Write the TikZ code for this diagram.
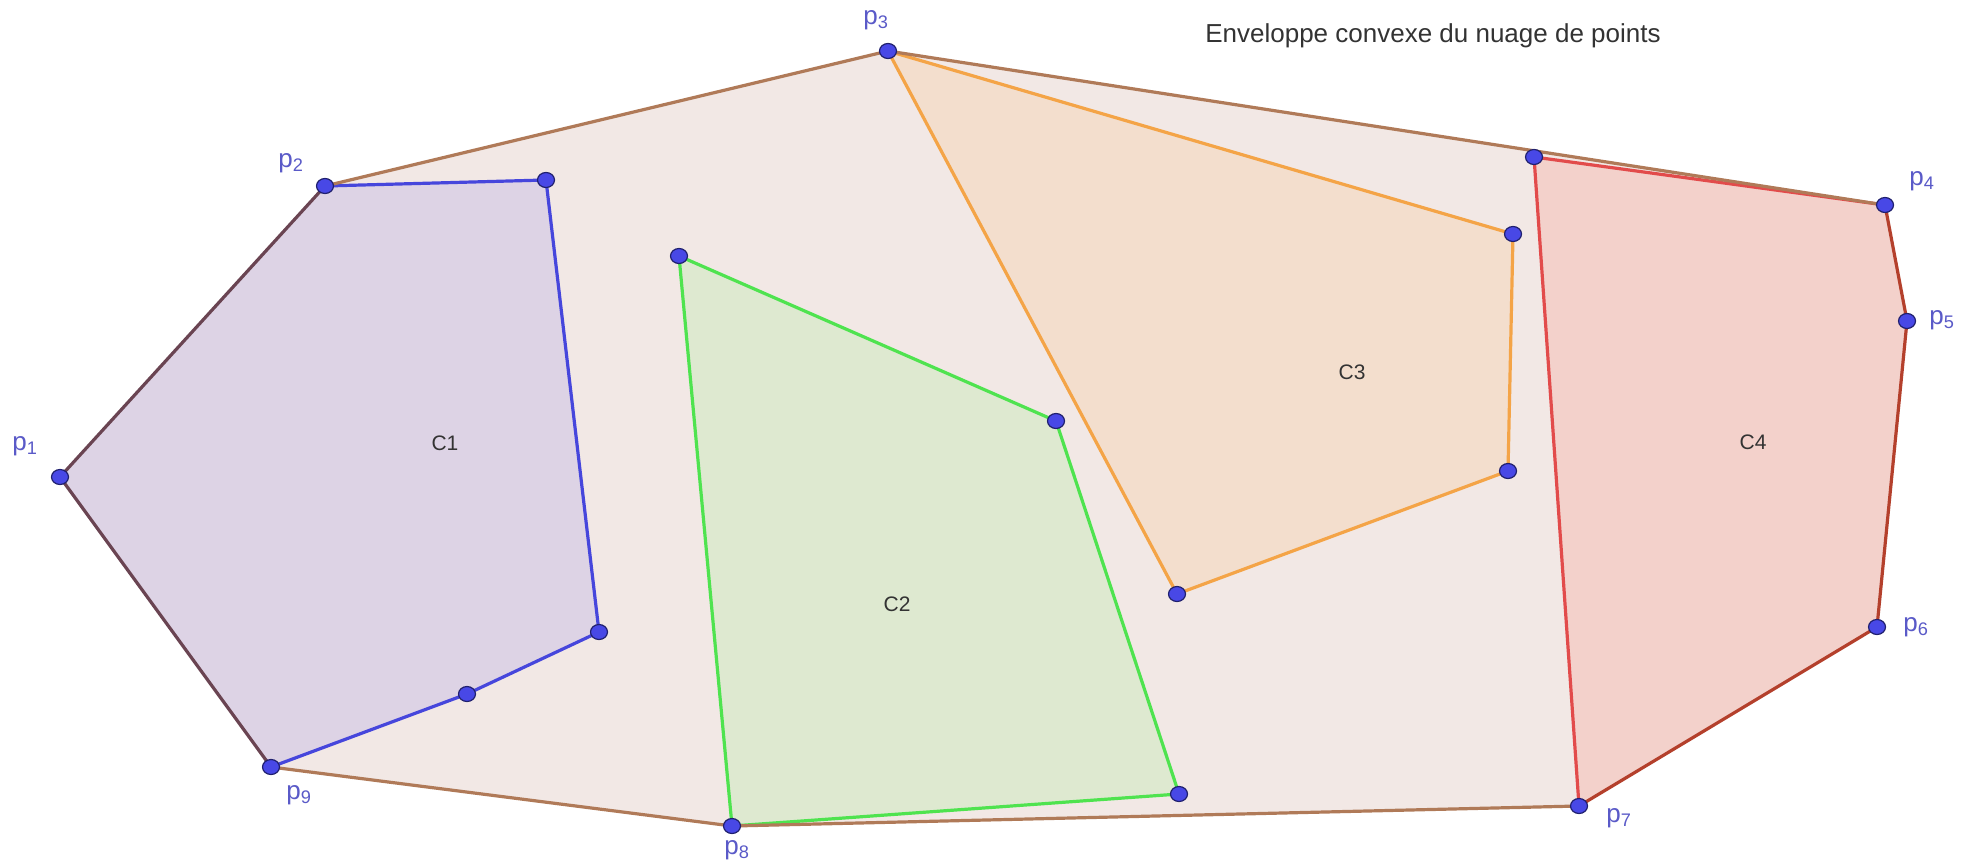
\documentclass[tikz,border=0pt]{standalone}
\usepackage{fontspec}
\setmainfont{Liberation Sans}
\begin{document}
\begin{tikzpicture}[x=1pt,y=-1pt,
  pt/.style={ellipse,inner sep=0pt,minimum width=17pt,minimum height=15pt,fill=ptfill,draw=ptdraw,line width=1.2pt},
  plab/.style={text=labblue,font=\fontsize{26}{26}\selectfont,inner sep=0pt},
  clab/.style={text=black!80,font=\fontsize{21}{21}\selectfont,inner sep=0pt},
  hull/.style={draw=hullc,line width=3.2pt,line join=round},
  edge/.style={line width=3.2pt,line join=round,line cap=round}]
\usetikzlibrary{shapes.geometric}
\definecolor{ptfill}{HTML}{4848E6}
\definecolor{ptdraw}{HTML}{20206E}
\definecolor{labblue}{HTML}{5A5AC8}
\definecolor{hullfill}{HTML}{F2E8E5}
\definecolor{hullc}{HTML}{B07A58}
\definecolor{c1fill}{HTML}{DDD3E5}
\definecolor{c1line}{HTML}{4646DC}
\definecolor{c1hull}{HTML}{6A4452}
\definecolor{c2fill}{HTML}{DEE9D0}
\definecolor{c2line}{HTML}{4FE34F}
\definecolor{c3fill}{HTML}{F3DECD}
\definecolor{c3line}{HTML}{F4A447}
\definecolor{c4fill}{HTML}{F3D1CB}
\definecolor{c4line}{HTML}{E24B4B}
\definecolor{c4hull}{HTML}{B4402C}
\useasboundingbox[fill=white] (0,0) rectangle (1969,867);
% points
\coordinate (p1) at (60,477);
\coordinate (p2) at (325,186);
\coordinate (p3) at (888,51);
\coordinate (p4) at (1885,205);
\coordinate (p5) at (1907,321);
\coordinate (p6) at (1877,627);
\coordinate (p7) at (1579,806);
\coordinate (p8) at (732,826);
\coordinate (p9) at (271,767);
\coordinate (a1) at (546,180);
\coordinate (a2) at (599,632);
\coordinate (a3) at (467,694);
\coordinate (b1) at (679,256);
\coordinate (b2) at (1056,421);
\coordinate (b3) at (1179,794);
\coordinate (d1) at (1513,234);
\coordinate (d2) at (1508,471);
\coordinate (d3) at (1177,594);
\coordinate (e1) at (1534,157);
% fills
\fill[hullfill] (p1)--(p2)--(p3)--(p4)--(p5)--(p6)--(p7)--(p8)--(p9)--cycle;
\fill[c1fill] (p1)--(p2)--(a1)--(a2)--(a3)--(p9)--cycle;
\fill[c2fill] (b1)--(b2)--(b3)--(p8)--cycle;
\fill[c3fill] (p3)--(d1)--(d2)--(d3)--cycle;
\fill[c4fill] (e1)--(p4)--(p5)--(p6)--(p7)--cycle;
% cluster edges
\draw[edge,c1line] (p2)--(a1)--(a2)--(a3)--(p9);
\draw[edge,c2line] (p8)--(b1)--(b2)--(b3)--cycle;
\draw[edge,c3line] (p3)--(d1)--(d2)--(d3)--cycle;
\draw[edge,c4line] (p7)--(e1)--(p4);
% hull edges
\draw[hull] (p2)--(p3)--(p4);
\draw[hull] (p7)--(p8)--(p9);
\draw[edge,c1hull] (p9)--(p1)--(p2);
\draw[edge,c4hull] (p4)--(p5)--(p6)--(p7);
% dots
\foreach \n in {p1,p2,p3,p4,p5,p6,p7,p8,p9,a1,a2,a3,b1,b2,b3,d1,d2,d3,e1}
  \node[pt] (n\n) at (\n) {};
% labels
\node[plab] (l1) at (25,446) {p\textsubscript{1}};
\node[plab] (l2) at (291,163) {p\textsubscript{2}};
\node[plab] (l3) at (876,20) {p\textsubscript{3}};
\node[plab] (l4) at (1922,181) {p\textsubscript{4}};
\node[plab] (l5) at (1942,320) {p\textsubscript{5}};
\node[plab] (l6) at (1916,627) {p\textsubscript{6}};
\node[plab] (l7) at (1619,818) {p\textsubscript{7}};
\node[plab] (l8) at (737,850) {p\textsubscript{8}};
\node[plab] (l9) at (299,795) {p\textsubscript{9}};
\node[clab] (t1) at (445,443) {C1};
\node[clab] (t2) at (897,604) {C2};
\node[clab] (t3) at (1352,372) {C3};
\node[clab] (t4) at (1753,442) {C4};
\node[text=black!80,font=\fontsize{26}{26}\selectfont,inner sep=0pt] (title) at (1433,36) {Enveloppe convexe du nuage de points};
\end{tikzpicture}
\end{document}
